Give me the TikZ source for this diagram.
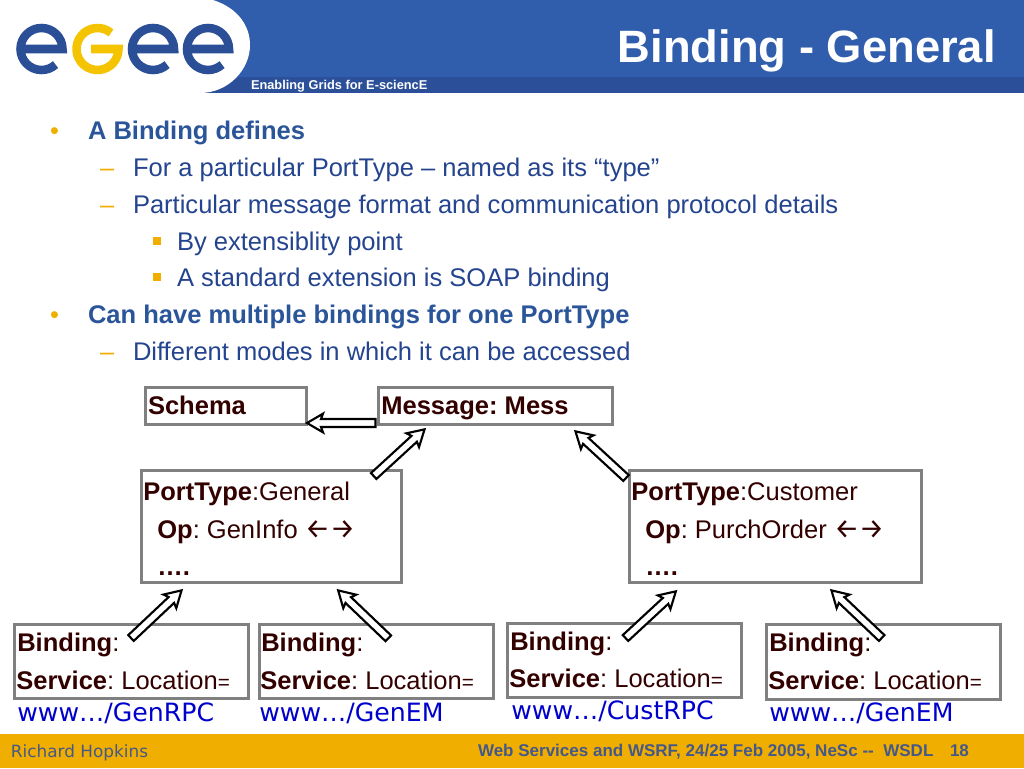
\documentclass[tikz,border=0pt]{standalone}
\usepackage{fontspec}
\setmainfont{Liberation Sans}
\newfontfamily\verd{DejaVu Sans}
\newfontfamily\arrf{Fira Sans}
\usetikzlibrary{calc}
\definecolor{hdrblue}{HTML}{315EAC}
\definecolor{bandblue}{HTML}{2B4F99}
\definecolor{logoblue}{HTML}{2A4F96}
\definecolor{logoyel}{HTML}{F5C400}
\definecolor{footyel}{HTML}{F0AE00}
\definecolor{maroon}{HTML}{330000}
\definecolor{boxgray}{HTML}{808080}
\definecolor{linkblue}{HTML}{0000CC}
\definecolor{foottxt}{HTML}{45588A}
\definecolor{bodyblue}{HTML}{24448F}
\definecolor{boldblue}{HTML}{2B5599}
\newcommand{\fs}[1]{\fontsize{#1}{#1}\selectfont}
\newcommand{\eqs}{{\fs{15.5}=}}
\newcommand{\arrs}{{\fs{21}\arrf ←→}}
\tikzset{
  x=0.75pt,y=-0.75pt,
  boxn/.style={draw=boxgray,line width=2.25pt,fill=white,inner sep=0pt,outer sep=0pt,anchor=north west},
  txt/.style={anchor=base west,inner sep=0pt,outer sep=0pt},
  lvla/.style={txt,text=boldblue,font=\fs{19.15}\bfseries},
  lvlb/.style={txt,text=bodyblue,font=\fs{19.15}},
  lvlc/.style={txt,text=bodyblue,font=\fs{19.15}},
  bul/.style={txt,text=footyel,font=\fs{19}},
  boxt/.style={txt,text=maroon,font=\fs{19.15}},
  boxs/.style={txt,text=maroon,font=\fs{19.15}\bfseries},
  lnk/.style={txt,text=linkblue,font=\fs{18.9}\verd},
  blockarr/.style={draw=black,line width=1.6pt,fill=white,line join=miter},
  logoe/.style={draw=logoblue,line width=6.4pt},
}
% block arrow from coordinate #1 (tail) to coordinate #2 (tip)
\newcommand{\blockarrow}[2]{%
  \draw[blockarr]
    ($(#1)!3pt!90:(#2)$) --
    ($(#2)!12pt!(#1)!3pt!-90:(#1)$) --
    ($(#2)!13.5pt!(#1)!7pt!-90:(#1)$) --
    ($(#2)!1.5pt!(#1)$) --
    ($(#2)!13.5pt!(#1)!7pt!90:(#1)$) --
    ($(#2)!12pt!(#1)!3pt!90:(#1)$) --
    ($(#1)!3pt!-90:(#2)$) -- cycle;}
\newcommand{\logoE}[1]{%
  \draw[logoe] (#1-21,49) -- (#1+21,49) arc[start angle=0,end angle=-312,radius=21];}
\begin{document}
\begin{tikzpicture}
\frenchspacing
\useasboundingbox (0,0) rectangle (1024,768);
\fill[white] (0,0) rectangle (1024,768);
% header
\fill[hdrblue] (0,0) rectangle (1024,93);
\fill[bandblue] (0,77) rectangle (1024,93);
\fill[white] (0,0) -- (213,0) .. controls (238,8) and (250,26) .. (250,45)
  .. controls (250,70) and (228,93) .. (200,93) -- (0,93) -- cycle;
% logo
\logoE{41.5}
\draw[logoyel,line width=6.4pt] ($(97.5,49)+(-50:21)$) arc[start angle=-50,end angle=-360,radius=21] -- (91,49);
\logoE{153}
\logoE{208}
\node[txt,text=white,font=\fs{9.6}\bfseries] (tag) at (251,89) {Enabling Grids for E-sciencE};
\node[anchor=base east,inner sep=0pt,text=white,font=\fs{34}\bfseries] (title) at (996,62) {Binding - General};
% body text
\node[bul] (b1) at (50,139) {•};
\node[lvla] (t1) at (88,139) {A Binding defines};
\node[bul] (b2) at (100,176) {–};
\node[lvlb] (t2) at (133,176) {For a particular PortType – named as its “type”};
\node[bul] (b3) at (100,213) {–};
\node[lvlb] (t3) at (133,213) {Particular message format and communication protocol details};
\fill[footyel] (153,237) rectangle (161,245);
\node[lvlc] (t4) at (177,250) {By extensiblity point};
\fill[footyel] (153,273) rectangle (161,281);
\node[lvlc] (t5) at (177,286.5) {A standard extension is SOAP binding};
\node[bul] (b6) at (50,323) {•};
\node[lvla] (t6) at (88,323) {Can have multiple bindings for one PortType};
\node[bul] (b7) at (100,360) {–};
\node[lvlb] (t7) at (133,360) {Different modes in which it can be accessed};
% boxes
\node[boxn,minimum width=121pt,minimum height=28pt] (schema) at (145,387) {};
\node[boxn,minimum width=176.2pt,minimum height=28pt] (message) at (378,387) {};
\node[boxn,minimum width=195.7pt,minimum height=84pt] (ptg) at (141,470) {};
\node[boxn,minimum width=219.7pt,minimum height=84pt] (ptc) at (629,470) {};
\node[boxn,minimum width=176.2pt,minimum height=56pt] (b1box) at (14,624) {};
\node[boxn,minimum width=176.2pt,minimum height=56pt] (b2box) at (259,624) {};
\node[boxn,minimum width=176.2pt,minimum height=56pt] (b3box) at (507,623) {};
\node[boxn,minimum width=176.2pt,minimum height=56pt] (b4box) at (766,624.5) {};
% box text
\node[boxs] (schemat) at (148,414) {Schema};
\node[boxs] (messaget) at (381.3,414) {Message: Mess};
\node[boxt] (pg1) at (143.3,500) {\textbf{PortType}:General};
\node[boxt] (pg2) at (157.3,538) {\textbf{Op}: GenInfo \arrs};
\node[boxs] (pg3) at (157.3,575) {….};
\node[boxt] (pc1) at (631.3,500) {\textbf{PortType}:Customer};
\node[boxt] (pc2) at (645.3,538) {\textbf{Op}: PurchOrder \arrs};
\node[boxs] (pc3) at (645.3,575) {….};
\node[boxt] (b1a) at (17.3,651) {\textbf{Binding}:};
\node[boxt] (b1b) at (16.3,689) {\textbf{Service}: Location\eqs};
\node[lnk] (b1c) at (17.3,721) {www…/GenRPC};
\node[boxt] (b2a) at (261.3,651) {\textbf{Binding}:};
\node[boxt] (b2b) at (260.3,689) {\textbf{Service}: Location\eqs};
\node[lnk] (b2c) at (259.3,721) {www…/GenEM};
\node[boxt] (b3a) at (510.3,650) {\textbf{Binding}:};
\node[boxt] (b3b) at (509.3,687) {\textbf{Service}: Location\eqs};
\node[lnk] (b3c) at (511.3,719) {www…/CustRPC};
\node[boxt] (b4a) at (769.3,651) {\textbf{Binding}:};
\node[boxt] (b4b) at (768.3,689) {\textbf{Service}: Location\eqs};
\node[lnk] (b4c) at (769.3,721) {www…/GenEM};
% connector ends
\coordinate (c1t) at (375.5,423); \coordinate (c1h) at (305,423);
\coordinate (c2t) at (373.7,476); \coordinate (c2h) at (426,428);
\coordinate (c3t) at (626,478); \coordinate (c3h) at (574,430);
\coordinate (c4t) at (131,638); \coordinate (c4h) at (183,589);
\coordinate (c5t) at (388.3,638.3); \coordinate (c5h) at (336.7,589);
\coordinate (c6t) at (625.5,638); \coordinate (c6h) at (677.3,590);
\coordinate (c7t) at (881.7,638); \coordinate (c7h) at (830,589);
\blockarrow{c1t}{c1h}
\blockarrow{c2t}{c2h}
\blockarrow{c3t}{c3h}
\blockarrow{c4t}{c4h}
\blockarrow{c5t}{c5h}
\blockarrow{c6t}{c6h}
\blockarrow{c7t}{c7h}
% footer
\fill[footyel] (0,734) rectangle (1024,768);
\node[txt,text=foottxt,font=\fs{12.65}\verd] (ft1) at (11,757) {Richard Hopkins};
\node[txt,text=foottxt,font=\fs{12.76}\bfseries] (ft2) at (478,756) {Web Services and WSRF, 24/25 Feb 2005, NeSc {-}{-}\ \ WSDL};
\node[txt,text=foottxt,font=\fs{12.76}\bfseries] (ft3) at (950,756) {18};
\end{tikzpicture}
\end{document}
